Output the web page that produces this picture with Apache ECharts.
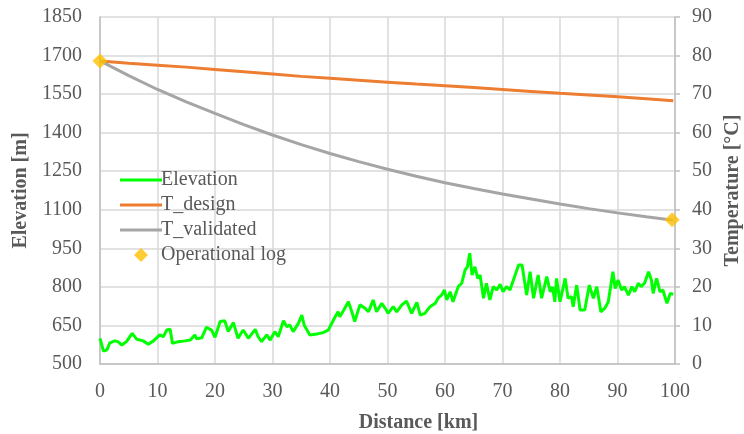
<!DOCTYPE html>
<html>
<head>
<meta charset="utf-8">
<script src="https://cdn.jsdelivr.net/npm/echarts@6/dist/echarts.min.js"></script>
<style>
  html, body { margin: 0; padding: 0; background: #fff; }
  #chart { width: 744px; height: 434px; }
</style>
</head>
<body>
<div id="chart"></div>
<script>
// 高程剖面 + 温度曲线

// 高程 (km, m)
const elevKm = [0, 0.6, 1.2, 1.7, 2.6, 3.1, 3.8, 4.6, 5.6, 6.4, 7.5, 8.4, 9.3, 10.4, 11, 11.6, 12.2, 12.6, 13.6, 14.8,
  15.7, 16.5, 16.8, 17.7, 18.5, 19.4, 20, 20.9, 21.7, 22.3, 23.2, 24, 24.9, 25.2, 25.8, 27, 27.5, 28.1, 29, 29.6,
  30.4, 31, 31.9, 32.5, 33, 33.6, 34.5, 35.1, 35.5, 36.5, 37.7, 38.8, 39.7, 40.9, 41.4, 41.7, 42.4, 43.2, 43.8, 44.3,
  45.2, 46.1, 46.7, 47.5, 48.1, 49, 49.8, 50.1, 51, 51.6, 52.5, 53.3, 54.2, 55.1, 55.7, 56.5, 57.4, 58.3, 58.8, 59.4,
  59.9, 60.3, 60.9, 61.4, 62.3, 62.9, 63.5, 63.9, 64.3, 64.7, 65.2, 65.7, 66.1, 66.7, 67.2, 67.8, 68.4, 69, 69.6, 70.1,
  70.7, 71.3, 72.2, 72.8, 73.4, 74.2, 74.8, 75.4, 76.2, 76.8, 77.7, 78.3, 78.7, 79.1, 79.4, 80, 80.9, 81.4, 82, 82.3,
  82.9, 83.5, 84.3, 85.1, 85.8, 86.4, 87.1, 87.8, 88.4, 89.2, 89.6, 90.1, 90.7, 91.2, 91.9, 92.5, 93, 93.6, 94.1, 94.7,
  95.4, 95.9, 96.2, 96.8, 97.4, 97.9, 98.6, 99.2, 99.7];
const elevM = [600, 550, 555, 582, 590, 587, 574, 587, 619, 596, 590, 577, 590, 613, 606, 632, 635, 580, 587, 590,
  593, 613, 598, 602, 643, 632, 604, 665, 668, 626, 661, 600, 632, 626, 600, 635, 606, 587, 613, 593,
  626, 606, 668, 645, 652, 626, 658, 690, 652, 613, 617, 622, 632, 684, 703, 684, 710, 742, 703, 665,
  730, 717, 703, 749, 703, 736, 710, 697, 723, 703, 730, 745, 697, 740, 690, 697, 723, 736, 756, 768,
  788, 749, 781, 742, 801, 814, 866, 878, 931, 846, 878, 833, 846, 756, 814, 749, 801, 788, 810, 781,
  801, 788, 846, 885, 885, 768, 859, 756, 846, 756, 840, 781, 800, 742, 833, 742, 833, 756, 762, 723,
  807, 710, 710, 807, 756, 801, 703, 717, 742, 859, 794, 827, 788, 801, 768, 801, 781, 814, 801, 814,
  859, 827, 775, 833, 781, 788, 736, 775, 771];

// 温度 (km, °C)
const tempKm = [0, 5, 10, 15, 20, 25, 30, 35, 40, 45, 50, 55, 60, 65, 70, 75, 80, 85, 90, 95, 99.7];
const tDesign = [78.6, 78.0, 77.5, 77.0, 76.4, 75.8, 75.2, 74.6, 74.1, 73.6, 73.1, 72.6, 72.2, 71.7, 71.2, 70.7, 70.2, 69.8, 69.3, 68.8, 68.3];
const tValidated = [78.6, 74.8, 71.2, 68.0, 65.0, 62.1, 59.4, 56.9, 54.6, 52.5, 50.5, 48.7, 47.0, 45.5, 44.1, 42.8, 41.5, 40.3, 39.2, 38.2, 37.3];

// 运行记录
const logKm = [0, 99.5];
const logTemp = [78.6, 37.4];

const xTicks = [0, 100, 10];
const elevTicks = [500, 1850, 150];
const tempTicks = [0, 90, 10];

const pairs = (xs, ys) => xs.map((x, i) => [x, ys[i]]);

const font = "'Liberation Serif', 'Times New Roman', serif";
const textColor = '#595959';
const axisColor = '#bfbfbf';
const gridColor = '#d9d9d9';
const lineIcon = 'path://M0,0 L42,0 L42,3 L0,3 Z';
const diamondIcon = 'path://M7,0 L14,7 L7,14 L0,7 Z';

// 坐标轴刻度文字
const tickLabel = margin => ({
    margin: margin,
    formatter: v => '{t|' + v + '}',
    rich: { t: { fontFamily: font, fontSize: 20, color: textColor } }
});

const myChart = echarts.init(document.getElementById('chart'));

const option = {
    animation: false,
    backgroundColor: '#fff',
    textStyle: { fontFamily: font },
    grid: { left: 100, right: 69, top: 17, bottom: 70, outerBoundsMode: 'none' },
    legend: {
        orient: 'vertical',
        left: 115,
        top: 165,
        itemWidth: 42,
        itemHeight: 14,
        itemGap: 5,
        symbolKeepAspect: true,
        textStyle: { fontFamily: font, fontSize: 20, color: textColor, padding: [0, 0, 0, -6] },
        data: [
            { name: 'Elevation', icon: lineIcon },
            { name: 'T_design', icon: lineIcon },
            { name: 'T_validated', icon: lineIcon },
            { name: 'Operational log', icon: diamondIcon }
        ]
    },
    xAxis: {
        type: 'value',
        min: xTicks[0],
        max: xTicks[1],
        interval: xTicks[2],
        name: 'Distance [km]',
        nameLocation: 'middle',
        nameGap: 49,
        nameTextStyle: { fontFamily: font, fontSize: 20, fontWeight: 'bold', color: textColor, padding: [0, 0, 0, 62] },
        axisLine: { lineStyle: { color: axisColor, width: 1.5 } },
        axisTick: { show: false },
        axisLabel: tickLabel(18),
        splitLine: { lineStyle: { color: gridColor, width: 1.5 } }
    },
    yAxis: [
        {
            type: 'value',
            min: elevTicks[0],
            max: elevTicks[1],
            interval: elevTicks[2],
            name: 'Elevation [m]',
            nameLocation: 'middle',
            nameGap: 68,
            nameTextStyle: { fontFamily: font, fontSize: 20, fontWeight: 'bold', color: textColor },
            axisLine: { show: true, lineStyle: { color: axisColor, width: 1.5 } },
            axisTick: { show: false },
            axisLabel: tickLabel(18),
            splitLine: { lineStyle: { color: gridColor, width: 1.5 } }
        },
        {
            type: 'value',
            position: 'right',
            min: tempTicks[0],
            max: tempTicks[1],
            interval: tempTicks[2],
            name: 'Temperature [°C]',
            nameLocation: 'middle',
            nameGap: 42,
            nameTextStyle: { fontFamily: font, fontSize: 20, fontWeight: 'bold', color: textColor },
            axisLine: { show: true, lineStyle: { color: axisColor, width: 1.5 } },
            axisTick: { show: true, length: 5, lineStyle: { color: axisColor, width: 1.5 } },
            axisLabel: tickLabel(17),
            splitLine: { show: false }
        }
    ],
    series: [
        {
            name: 'Elevation',
            type: 'line',
            yAxisIndex: 0,
            data: pairs(elevKm, elevM),
            symbol: 'none',
            lineStyle: { color: '#00ff00', width: 3 },
            itemStyle: { color: '#00ff00' },
            z: 3
        },
        {
            name: 'T_design',
            type: 'line',
            yAxisIndex: 1,
            data: pairs(tempKm, tDesign),
            symbol: 'none',
            lineStyle: { color: '#ed7d31', width: 3 },
            itemStyle: { color: '#ed7d31' },
            z: 4
        },
        {
            name: 'T_validated',
            type: 'line',
            yAxisIndex: 1,
            data: pairs(tempKm, tValidated),
            symbol: 'none',
            lineStyle: { color: '#a5a5a5', width: 3 },
            itemStyle: { color: '#a5a5a5' },
            z: 4
        },
        {
            name: 'Operational log',
            type: 'scatter',
            yAxisIndex: 1,
            data: pairs(logKm, logTemp),
            symbol: 'diamond',
            symbolSize: 15,
            itemStyle: { color: '#ffc000' },
            z: 5
        }
    ]
};

myChart.setOption(option);
</script>
</body>
</html>
